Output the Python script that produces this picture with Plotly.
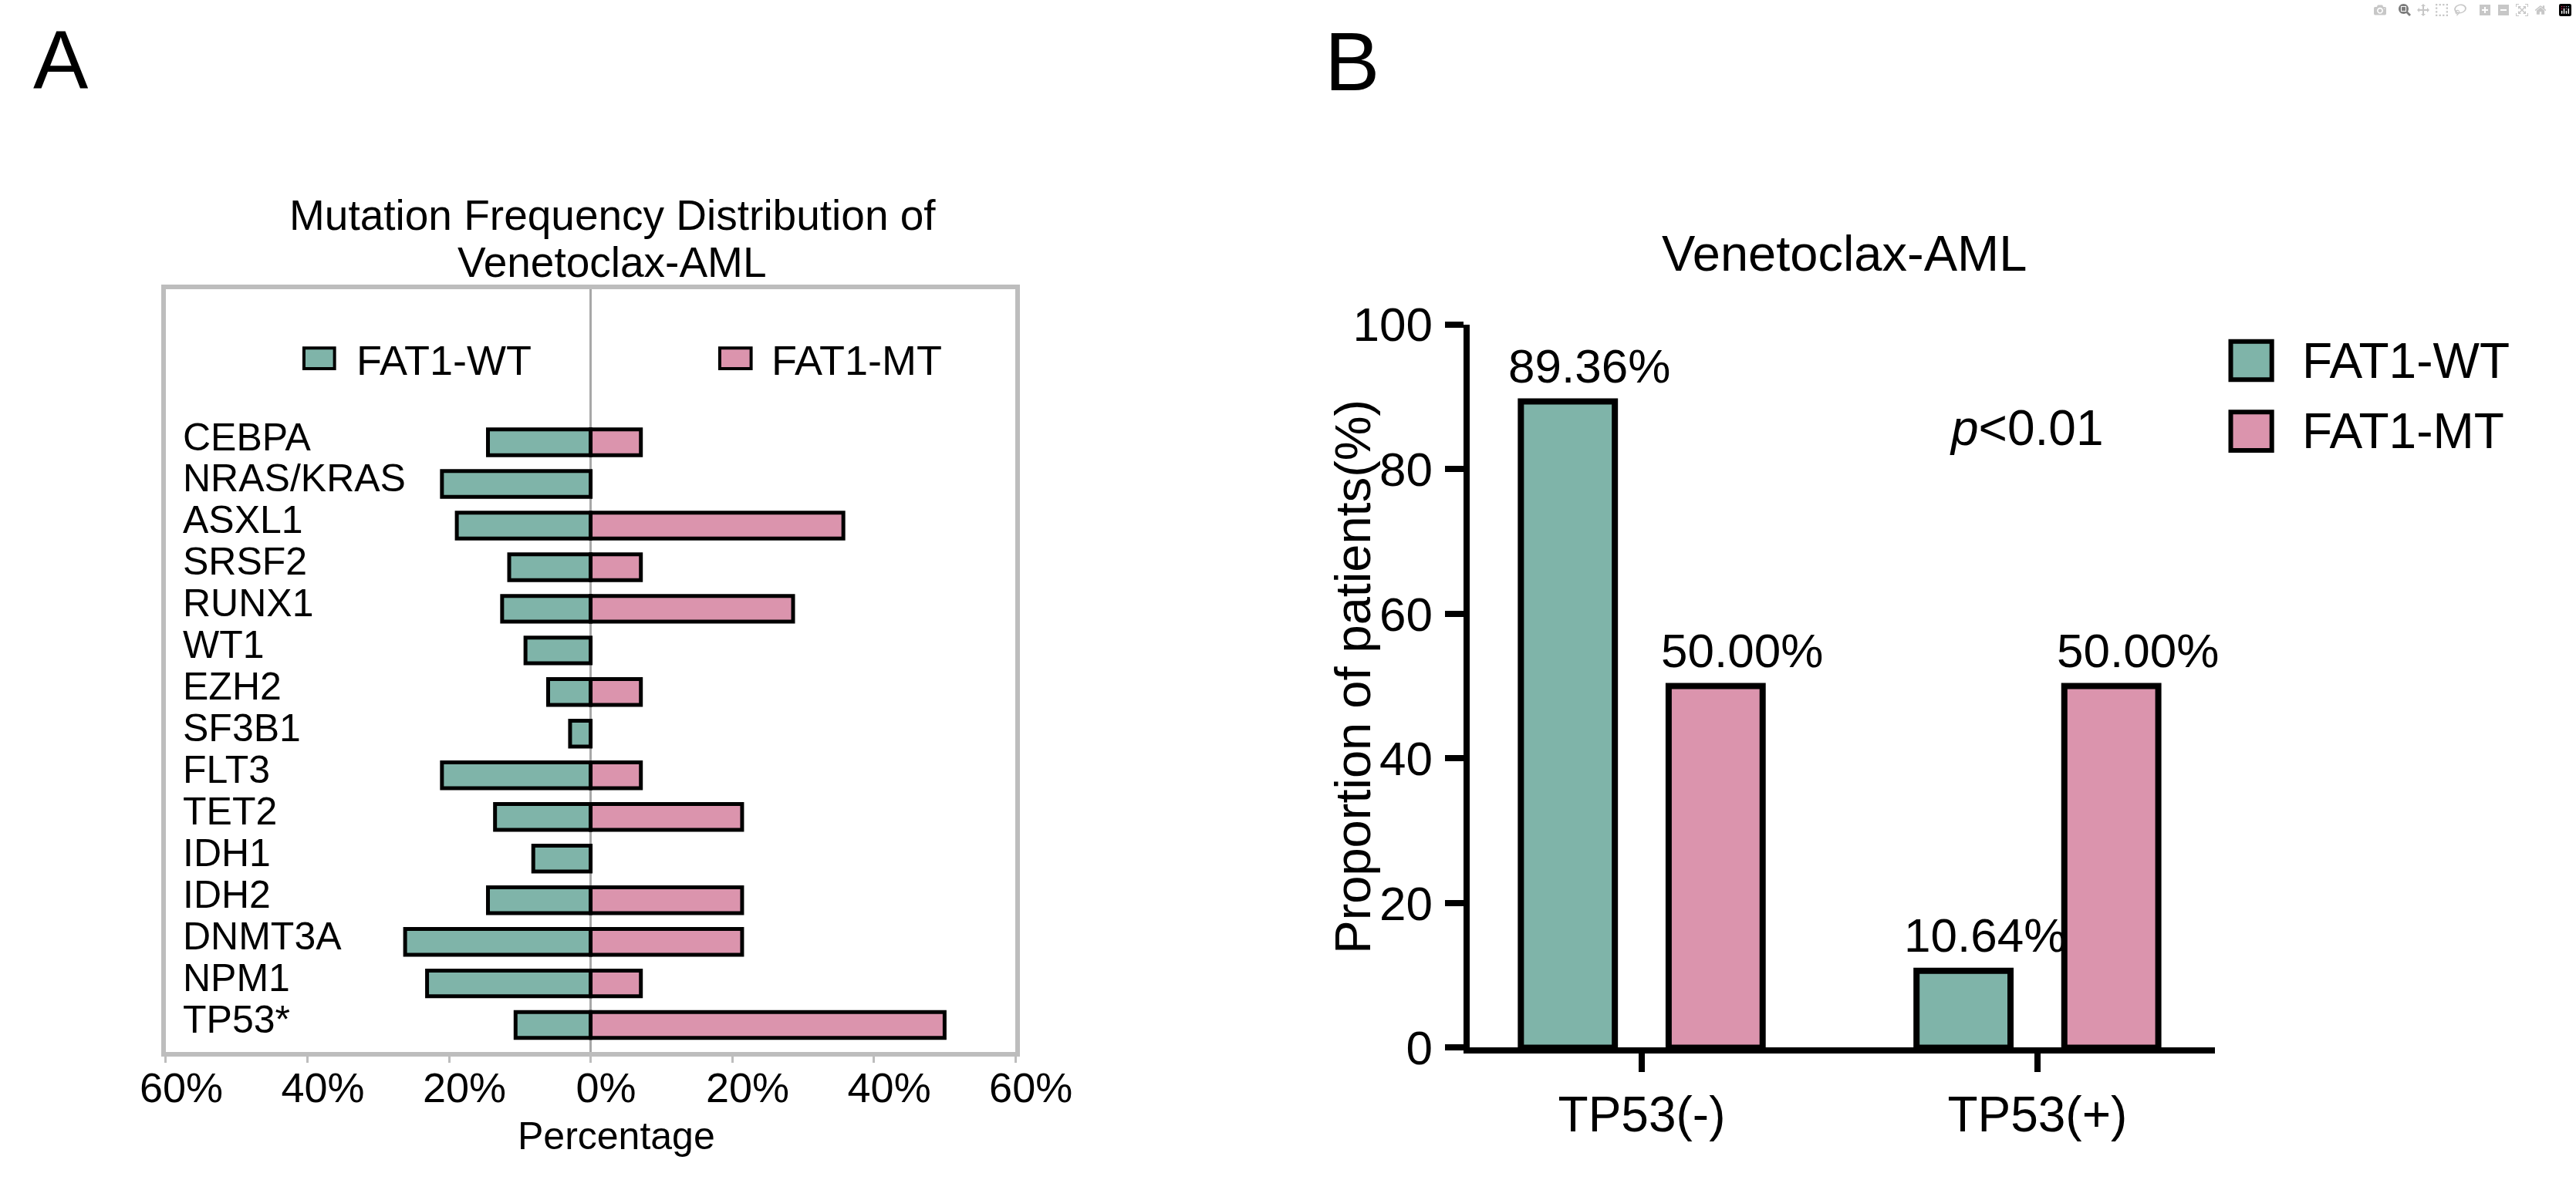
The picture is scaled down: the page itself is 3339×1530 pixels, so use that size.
import plotly.graph_objects as go

W, H = 3339, 1530
FONT = "Arial, Liberation Sans, sans-serif"

# ---- datos panel A (frecuencia de mutaciones, %)
genes = ["CEBPA", "NRAS/KRAS", "ASXL1", "SRSF2", "RUNX1", "WT1", "EZH2", "SF3B1",
         "FLT3", "TET2", "IDH1", "IDH2", "DNMT3A", "NPM1", "TP53*"]
wt_pct = [14.5, 21.0, 18.9, 11.5, 12.5, 9.2, 6.0, 2.9, 21.0, 13.5, 8.1, 14.5, 26.2, 23.1, 10.6]
mt_pct = [7.1, 0, 35.7, 7.1, 28.6, 0, 7.1, 0, 7.1, 21.4, 0, 21.4, 21.4, 7.1, 50.0]
a_ticks = [-60, -40, -20, 0, 20, 40, 60]
a_ticktext = ["60%", "40%", "20%", "0%", "20%", "40%", "60%"]

# ---- datos panel B (proporcion de pacientes, %)
groups = ["TP53(-)", "TP53(+)"]
wt_b = [89.36, 10.64]
mt_b = [50.00, 50.00]

WT_COLOR = "#7fb4a9"
MT_COLOR = "#db94ad"


def px(x):
    return x / W


def py(y):
    return 1 - y / H


fig = go.Figure()

# panel A: barras enfrentadas
fig.add_trace(go.Bar(
    y=genes, x=[-v for v in wt_pct], orientation="h", name="FAT1-WT",
    marker=dict(color=WT_COLOR, line=dict(color="black", width=5)),
    width=0.62, offset=-0.31, xaxis="x", yaxis="y", showlegend=False,
))
fig.add_trace(go.Bar(
    y=genes, x=[v if v > 0 else None for v in mt_pct], orientation="h", name="FAT1-MT",
    marker=dict(color=MT_COLOR, line=dict(color="black", width=5)),
    width=0.62, offset=-0.31, xaxis="x", yaxis="y", showlegend=False,
))

# panel B: barras agrupadas
fig.add_trace(go.Bar(
    x=groups, y=wt_b, name="FAT1-WT",
    marker=dict(color=WT_COLOR, line=dict(color="black", width=8)),
    xaxis="x2", yaxis="y2", showlegend=False,
))
fig.add_trace(go.Bar(
    x=groups, y=mt_b, name="FAT1-MT",
    marker=dict(color=MT_COLOR, line=dict(color="black", width=8)),
    xaxis="x2", yaxis="y2", showlegend=False,
))

ann = []
# nombres de genes, alineados a la izquierda dentro del recuadro
for g in genes:
    ann.append(dict(x=px(209), y=g, xref="paper", yref="y", text=g, showarrow=False,
                    xanchor="left", yanchor="middle", yshift=7, borderpad=0,
                    font=dict(size=50, color="black")))

# etiquetas de valor sobre las barras de B
for g, v in zip(groups, wt_b):
    ann.append(dict(x=g, y=v, xref="x2", yref="y2", text=f"{v:.2f}%", showarrow=False,
                    xanchor="center", yanchor="bottom", xshift=-99 + 31, yshift=10,
                    font=dict(size=62)))
for g, v in zip(groups, mt_b):
    ann.append(dict(x=g, y=v, xref="x2", yref="y2", text=f"{v:.2f}%", showarrow=False,
                    xanchor="center", yanchor="bottom", xshift=99 + 31, yshift=10,
                    font=dict(size=62)))

# textos de panel A
ann += [
    dict(x=px(7), y=py(46), xref="paper", yref="paper", text="A", showarrow=False,
         xanchor="left", yanchor="middle", font=dict(size=107)),
    dict(x=px(785), y=py(257), xref="paper", yref="paper",
         text="Mutation Frequency Distribution of", showarrow=False,
         xanchor="center", yanchor="middle", font=dict(size=55)),
    dict(x=px(785), y=py(320), xref="paper", yref="paper", text="Venetoclax-AML",
         showarrow=False, xanchor="center", yanchor="middle", font=dict(size=55)),
    dict(x=px(791), y=py(1507), xref="paper", yref="paper", text="Percentage",
         showarrow=False, xanchor="center", yanchor="middle", borderpad=0,
         font=dict(size=50)),
    dict(x=px(440), y=py(453), xref="paper", yref="paper", text="FAT1-WT",
         showarrow=False, xanchor="left", yanchor="middle", font=dict(size=54)),
    dict(x=px(996), y=py(453), xref="paper", yref="paper", text="FAT1-MT",
         showarrow=False, xanchor="left", yanchor="middle", font=dict(size=54)),
]

# textos de panel B
ann += [
    dict(x=px(1737), y=py(48), xref="paper", yref="paper", text="B", showarrow=False,
         xanchor="left", yanchor="middle", font=dict(size=107)),
    dict(x=px(2435), y=py(308), xref="paper", yref="paper", text="Venetoclax-AML",
         showarrow=False, xanchor="center", yanchor="middle", font=dict(size=65)),
    dict(x=px(1777), y=py(883), xref="paper", yref="paper",
         text="Proportion of patients(%)", textangle=-90, showarrow=False,
         xanchor="center", yanchor="middle", font=dict(size=65)),
    dict(x=px(2680), y=py(546), xref="paper", yref="paper", text="<i>p</i>&lt;0.01",
         showarrow=False, xanchor="center", yanchor="middle", font=dict(size=64)),
    dict(x=px(3047), y=py(454), xref="paper", yref="paper", text="FAT1-WT",
         showarrow=False, xanchor="left", yanchor="middle", font=dict(size=64)),
    dict(x=px(3047), y=py(550), xref="paper", yref="paper", text="FAT1-MT",
         showarrow=False, xanchor="left", yanchor="middle", font=dict(size=64)),
]

# cuadritos de leyenda
shapes = []
for x0, x1, y0, y1, col, lw in [
    (372, 413, 437, 465, WT_COLOR, 4), (929, 971, 437, 465, MT_COLOR, 4),
    (2953, 3008, 428, 480, WT_COLOR, 6), (2953, 3008, 524, 576, MT_COLOR, 6),
]:
    shapes.append(dict(type="rect", xref="paper", yref="paper",
                       x0=px(x0), x1=px(x1), y0=py(y1), y1=py(y0),
                       fillcolor=col, line=dict(color="black", width=lw)))

fig.update_layout(
    width=W, height=H,
    margin=dict(l=0, r=0, t=0, b=0),
    paper_bgcolor="white", plot_bgcolor="white",
    font=dict(family=FONT, color="black"),
    barmode="group", bargap=0.253, bargroupgap=0.364,
    annotations=ann, shapes=shapes,
    xaxis=dict(
        domain=[px(187), px(1325)], range=[-60, 60],
        tickvals=a_ticks, ticktext=a_ticktext, tickfont=dict(size=54, color="black"),
        ticks="outside", ticklen=8, tickwidth=3, tickcolor="#bdbdbd",
        ticklabelshift=20, ticklabelstandoff=-14,
        showline=True, mirror=True, linecolor="#bdbdbd", linewidth=6,
        zeroline=True, zerolinecolor="#a8a8a8", zerolinewidth=3,
        showgrid=False,
    ),
    yaxis=dict(
        domain=[py(1393), py(357)], type="category", categoryorder="array",
        categoryarray=genes, range=[14.65, -3.68],
        ticks="", showticklabels=False,
        showline=True, mirror=True, linecolor="#bdbdbd", linewidth=6,
        showgrid=False, zeroline=False,
    ),
    xaxis2=dict(
        domain=[px(1934), px(2932)], anchor="y2", type="category",
        range=[-0.434, 1.449], tickfont=dict(size=64, color="black"),
        ticks="outside", ticklen=24, tickwidth=8, tickcolor="black",
        showline=True, linecolor="black", linewidth=8,
        showgrid=False, zeroline=False,
    ),
    yaxis2=dict(
        domain=[py(1387), py(405)], anchor="x2", range=[0, 100], dtick=20,
        tickfont=dict(size=62, color="black"),
        ticks="outside", ticklen=24, tickwidth=8, tickcolor="black",
        ticklabelstandoff=4,
        showline=True, linecolor="black", linewidth=8,
        showgrid=False, zeroline=False,
    ),
)

fig.write_html("out.html", post_script="document.body.style.margin='0';")
